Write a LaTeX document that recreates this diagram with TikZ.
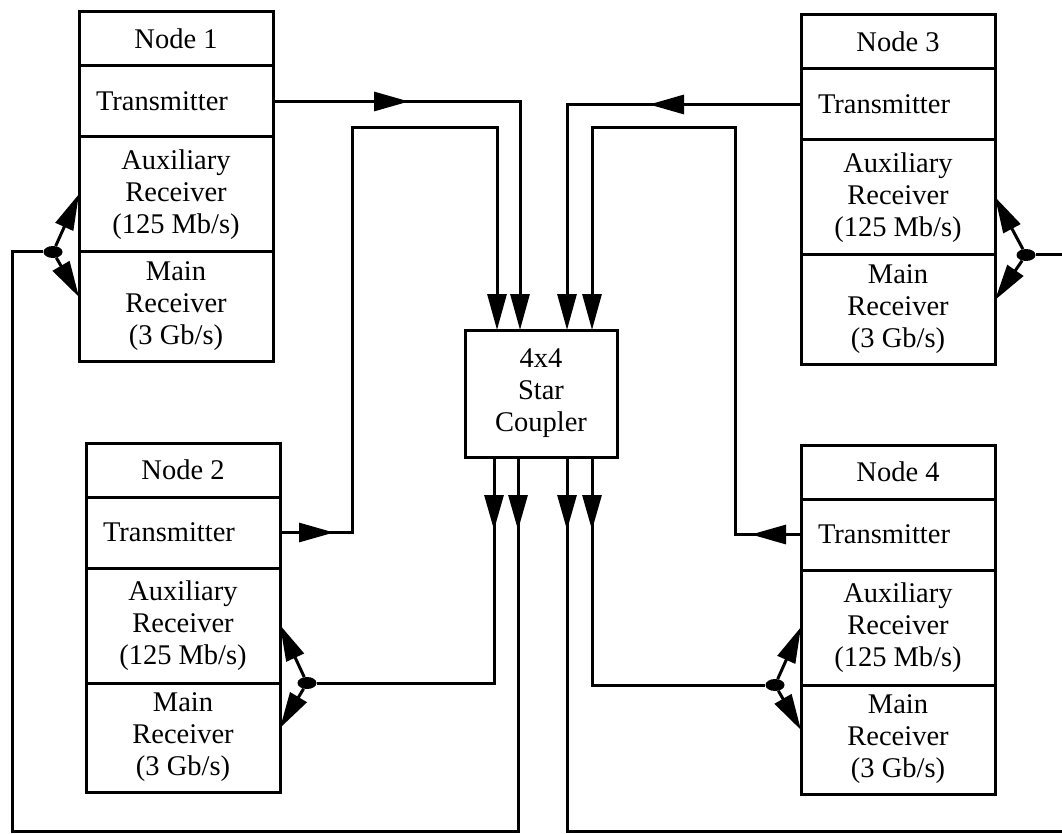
\documentclass[tikz,border=0pt]{standalone}
\usepackage{fontspec}
\setmainfont{Liberation Serif}
\usetikzlibrary{arrows.meta,positioning,decorations.markings,shapes.geometric}

\begin{document}
\begin{tikzpicture}[
      x=1pt, y=-1pt,
      every node/.style={font=\fontsize{28.5}{32}\selectfont},
      cell/.style={rectangle, draw=black, line width=3pt, outer sep=0pt, inner sep=2pt, minimum width=194pt, align=center},
      title/.style={cell, minimum height=54pt},
      txcell/.style={cell, minimum height=71pt, inner xsep=17pt, text width=160pt, align=left},
      auxcell/.style={cell, minimum height=115pt},
      maincell/.style={cell, minimum height=109pt},
      coupler/.style={cell, minimum width=152pt, minimum height=127pt},
      junction/.style={ellipse, fill=black, inner sep=0pt, minimum width=19pt, minimum height=12pt},
      wire/.style={line width=3pt},
      feed/.style={wire, -{Triangle[length=36pt, width=19pt]}},
      midarrow/.style={postaction={decorate}, decoration={markings, mark=at position #1 with {\arrow{Triangle[length=35pt, width=19pt]}}}}
  ]
    \useasboundingbox (0,0) rectangle (1062,834);

    \node[title, anchor=north west] (n1) at (79,12) {Node 1};
    \node[txcell, below=0pt of n1] (t1) {Transmitter};
    \node[auxcell, below=0pt of t1] (a1) {Auxiliary\\Receiver\\(125 Mb/s)};
    \node[maincell, below=0pt of a1] (m1) {Main\\Receiver\\(3 Gb/s)};

    \node[title, anchor=north west] (n2) at (86,443) {Node 2};
    \node[txcell, below=0pt of n2] (t2) {Transmitter};
    \node[auxcell, below=0pt of t2] (a2) {Auxiliary\\Receiver\\(125 Mb/s)};
    \node[maincell, below=0pt of a2] (m2) {Main\\Receiver\\(3 Gb/s)};

    \node[title, anchor=north west] (n3) at (801,15) {Node 3};
    \node[txcell, below=0pt of n3] (t3) {Transmitter};
    \node[auxcell, below=0pt of t3] (a3) {Auxiliary\\Receiver\\(125 Mb/s)};
    \node[maincell, below=0pt of a3] (m3) {Main\\Receiver\\(3 Gb/s)};

    \node[title, anchor=north west] (n4) at (801,445) {Node 4};
    \node[txcell, below=0pt of n4] (t4) {Transmitter};
    \node[auxcell, below=0pt of t4] (a4) {Auxiliary\\Receiver\\(125 Mb/s)};
    \node[maincell, below=0pt of a4] (m4) {Main\\Receiver\\(3 Gb/s)};

    \node[coupler, anchor=north west] (cp) at (465,330) {4x4\\Star\\Coupler};

    \node[junction] (j1) at ([xshift=-26pt]a1.south west) {};
    \node[junction] (j2) at ([xshift=27pt]a2.south east) {};
    \node[junction] (j3) at ([xshift=31pt]a3.south east) {};
    \node[junction] (j4) at ([xshift=-26pt]a4.south west) {};

    \draw[feed, midarrow=136pt] (t1.east) -| ([xshift=55pt]cp.north west);
    \draw[feed, midarrow=54pt] (t2.east) -| (352,128) -| ([xshift=32pt]cp.north west);
    \draw[feed, midarrow=152pt] (t3.west) -| ([xshift=102pt]cp.north west);
    \draw[feed, midarrow=50pt] (t4.west) -| (735,128) -| ([xshift=127pt]cp.north west);

    \draw[wire, midarrow=73pt] ([xshift=53pt]cp.south west) |- (12,831) |- (j1);
    \draw[wire, midarrow=73pt] ([xshift=29pt]cp.south west) |- (j2);
    \draw[wire, midarrow=73pt] ([xshift=102pt]cp.south west) |- (1065,831) |- (j3);
    \draw[wire, midarrow=73pt] ([xshift=127pt]cp.south west) |- (j4);

    \foreach \j/\a/\m in {j1/a1.south west/m1.north west, j2/a2.south east/m2.north east, j3/a3.south east/m3.north east, j4/a4.south west/m4.north west} {
      \draw[feed] (\j) -- ([yshift=58pt]\a);
      \draw[feed] (\j) -- ([yshift=-45pt]\m);
    }
\end{tikzpicture}
\end{document}
